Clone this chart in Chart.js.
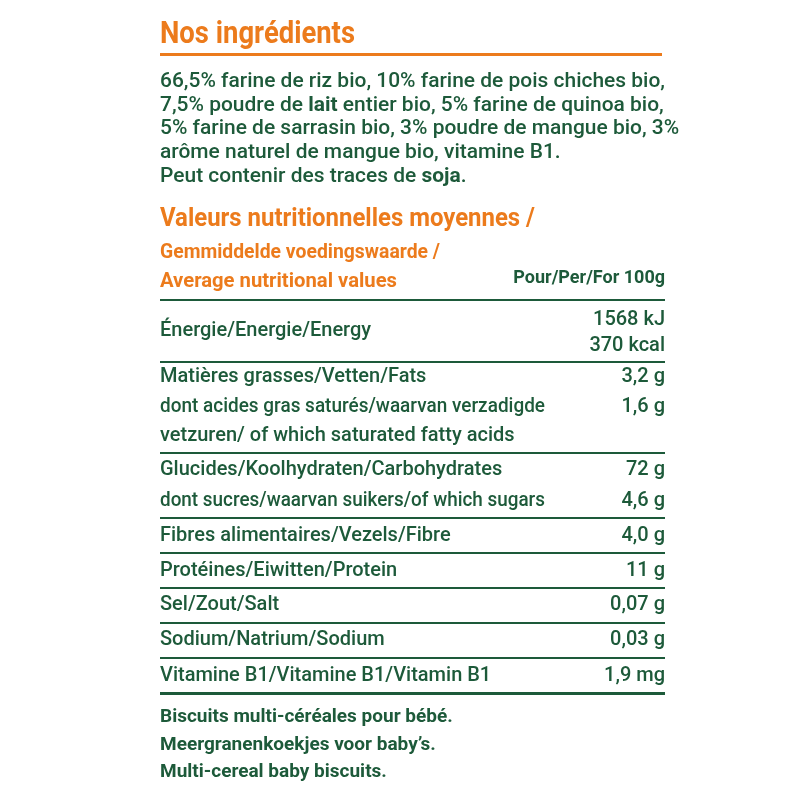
<!DOCTYPE html>
<html>
<head>
<meta charset="utf-8">
<script src="https://cdn.jsdelivr.net/npm/chart.js@4"></script>
<style>
  html, body { margin: 0; padding: 0; background: #fff; }
  canvas { display: block; }
</style>
</head>
<body>
<canvas id="label" width="800" height="800"></canvas>
<script>
const GREEN = "#1d5a3a";
const ORANGE = "#ec7b1c";

// text content
const ingredientLines = [
  [["66,5% farine de riz bio, 10% farine de pois chiches bio,", false]],
  [["7,5% poudre de ", false], ["lait", true], [" entier bio, 5% farine de quinoa bio,", false]],
  [["5% farine de sarrasin bio, 3% poudre de mangue bio, 3%", false]],
  [["arôme naturel de mangue bio, vitamine B1.", false]],
  [["Peut contenir des traces de ", false], ["soja", true], [".", false]]
];
const headerLines = ["Valeurs nutritionnelles moyennes /", "Gemmiddelde voedingswaarde /", "Average nutritional values"];
const perLabel = "Pour/Per/For 100g";
const nutrientLabels = [
  "Énergie/Energie/Energy",
  "Matières grasses/Vetten/Fats",
  "dont acides gras saturés/waarvan verzadigde",
  "vetzuren/ of which saturated fatty acids",
  "Glucides/Koolhydraten/Carbohydrates",
  "dont sucres/waarvan suikers/of which sugars",
  "Fibres alimentaires/Vezels/Fibre",
  "Protéines/Eiwitten/Protein",
  "Sel/Zout/Salt",
  "Sodium/Natrium/Sodium",
  "Vitamine B1/Vitamine B1/Vitamin B1"
];
const nutrientValues = ["", "3,2 g", "1,6 g", "", "72 g", "4,6 g", "4,0 g", "11 g", "0,07 g", "0,03 g", "1,9 mg"];
const energyValues = ["1568 kJ", "370 kcal"];
const footerLines = ["Biscuits multi-céréales pour bébé.", "Meergranenkoekjes voor baby’s.", "Multi-cereal baby biscuits."];

// layout (in 0..800 scale units)
const L = 160, R = 665;
const ingredientY = [82, 106, 129, 153, 177];
const headerY = [220, 253, 282];
const headerWidths = [375, 280, 237];
const nutrientY = [331, 377, 407, 436, 470, 501, 536, 571, 605, 640, 676];
const energyY = [320, 346];
const ruleY = [300, 362, 453, 518, 553, 588, 623, 658, 693];
const footerY = [717, 745, 772];

const FONT = "Roboto, 'Liberation Sans', sans-serif";

const textPlugin = {
  id: "labelText",
  afterDraw(chart) {
    const ctx = chart.ctx;
    const xs = chart.scales.x, ys = chart.scales.y;
    const px = v => xs.getPixelForValue(v);
    const py = v => ys.getPixelForValue(v);
    ctx.save();
    ctx.textBaseline = "middle";

    // title
    ctx.fillStyle = ORANGE;
    ctx.font = "bold 31px " + FONT;
    ctx.textAlign = "left";
    ctx.fillText("Nos ingrédients", px(L), py(35), 195);
    ctx.fillRect(px(L), py(53), px(R - 3) - px(L), 3);

    // ingredients: one common squeeze factor from the first line
    ctx.font = "500 21px " + FONT;
    const k = Math.min(1, (px(R) - px(L)) / ctx.measureText(ingredientLines[0][0][0]).width);
    ingredientLines.forEach((parts, i) => {
      let x = px(L);
      parts.forEach(([t, b]) => {
        ctx.font = (b ? "bold " : "500 ") + "21px " + FONT;
        const w = ctx.measureText(t).width * k;
        ctx.fillStyle = GREEN;
        ctx.fillText(t, x, py(ingredientY[i]), w);
        x += w;
      });
    });

    // headers
    ctx.fillStyle = ORANGE;
    headerLines.forEach((t, i) => {
      ctx.font = "bold " + (i === 0 ? 25 : 21) + "px " + FONT;
      ctx.fillText(t, px(L), py(headerY[i]), headerWidths[i]);
    });
    ctx.fillStyle = GREEN;
    ctx.font = "bold 18px " + FONT;
    ctx.textAlign = "right";
    ctx.fillText(perLabel, px(R), py(278), 170);

    // rules
    ruleY.forEach((y, i) => {
      ctx.fillRect(px(L), py(y) - 1, px(R) - px(L), i === ruleY.length - 1 ? 3 : 2);
    });

    // nutrients
    ctx.font = "500 20px " + FONT;
    nutrientLabels.forEach((t, i) => {
      ctx.textAlign = "left";
      ctx.fillText(t, px(L), py(nutrientY[i]), 385);
      if (nutrientValues[i]) {
        ctx.textAlign = "right";
        ctx.fillText(nutrientValues[i], px(R), py(nutrientY[i]));
      }
    });
    ctx.textAlign = "right";
    energyValues.forEach((t, i) => ctx.fillText(t, px(R), py(energyY[i])));

    // footer
    ctx.textAlign = "left";
    ctx.font = "bold 19px " + FONT;
    footerLines.forEach((t, i) => {
      ctx.fillText(t, px(L), py(footerY[i]), 300);
    });
    ctx.restore();
  }
};

new Chart(document.getElementById("label"), {
  type: "scatter",
  data: { datasets: [{ data: [] }] },
  options: {
    responsive: false,
    animation: false,
    layout: { padding: 0 },
    plugins: { legend: { display: false }, tooltip: { enabled: false } },
    scales: {
      x: { type: "linear", min: 0, max: 800, display: false },
      y: { type: "linear", min: 0, max: 800, reverse: true, display: false }
    }
  },
  plugins: [textPlugin]
});
</script>
</body>
</html>
